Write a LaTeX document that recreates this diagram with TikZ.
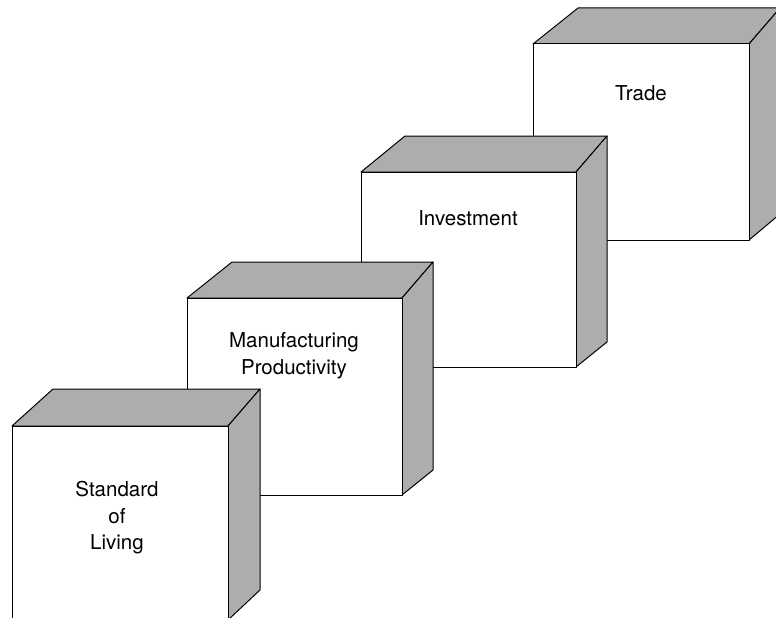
\documentclass[tikz,border=0pt]{standalone}
\usepackage{fontspec}
\setmainfont{TeX Gyre Heros}
\definecolor{sidegray}{gray}{0.68}
\tikzset{
  face/.style={draw=black,line width=1pt,line join=round},
  lbl/.style={align=center,font=\fontsize{20.5}{26.5}\selectfont,inner sep=0pt}
}
\begin{document}
\begin{tikzpicture}[x=1pt,y=-1pt]
    \useasboundingbox (0,0) rectangle (776,618);
    \clip (0,0) rectangle (776,618);

% Trade
    \coordinate (d0) at (533,44);
    \coordinate (d1) at (749,44);
    \coordinate (d2) at (749,240);
    \coordinate (d3) at (533,240);
    \coordinate (d4) at (578,8);
    \coordinate (d5) at (780,8);
    \coordinate (d6) at (780,214);

    \draw[face,fill=sidegray] (d0) -- (d4) -- (d5) -- (d1) -- cycle;
    \draw[face,fill=sidegray] (d1) -- (d5) -- (d6) -- (d2) -- cycle;
    \draw[face,fill=white] (d0) -- (d1) -- (d2) -- (d3) -- cycle;
    \node[lbl] (trade) at (641,93.5) {Trade};

% Investment
    \coordinate (c0) at (361,172);
    \coordinate (c1) at (576,172);
    \coordinate (c2) at (576,367);
    \coordinate (c3) at (361,367);
    \coordinate (c4) at (405,136);
    \coordinate (c5) at (607,136);
    \coordinate (c6) at (607,342);

    \draw[face,fill=sidegray] (c0) -- (c4) -- (c5) -- (c1) -- cycle;
    \draw[face,fill=sidegray] (c1) -- (c5) -- (c6) -- (c2) -- cycle;
    \draw[face,fill=white] (c0) -- (c1) -- (c2) -- (c3) -- cycle;
    \node[lbl] (invest) at (468,218.5) {Investment};

% Manufacturing Productivity
    \coordinate (b0) at (187,298);
    \coordinate (b1) at (402,298);
    \coordinate (b2) at (402,495);
    \coordinate (b3) at (187,495);
    \coordinate (b4) at (232,262);
    \coordinate (b5) at (433,262);
    \coordinate (b6) at (433,470);

    \draw[face,fill=sidegray] (b0) -- (b4) -- (b5) -- (b1) -- cycle;
    \draw[face,fill=sidegray] (b1) -- (b5) -- (b6) -- (b2) -- cycle;
    \draw[face,fill=white] (b0) -- (b1) -- (b2) -- (b3) -- cycle;
    \node[lbl] (manuf) at (294,355.5) {Manufacturing\\Productivity};

% Standard of Living
    \coordinate (a0) at (12,426);
    \coordinate (a1) at (228,426);
    \coordinate (a2) at (228,620);
    \coordinate (a3) at (12,620);
    \coordinate (a4) at (53,389);
    \coordinate (a5) at (260,389);
    \coordinate (a6) at (260,590);

    \draw[face,fill=sidegray] (a0) -- (a4) -- (a5) -- (a1) -- cycle;
    \draw[face,fill=sidegray] (a1) -- (a5) -- (a6) -- (a2) -- cycle;
    \draw[face,fill=white] (a0) -- (a1) -- (a2) -- (a3) -- cycle;
    \node[lbl] (living) at (117,518) {Standard\\of\\Living};

\end{tikzpicture}
\end{document}
